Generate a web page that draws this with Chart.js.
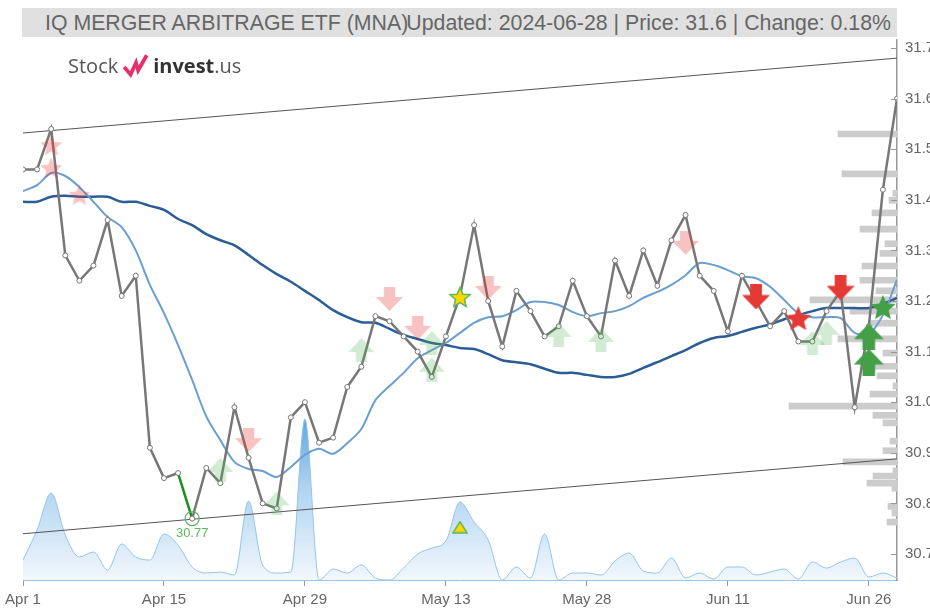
<!DOCTYPE html>
<html>
<head>
<meta charset="utf-8">
<script src="https://cdn.jsdelivr.net/npm/chart.js@4.4.1/dist/chart.umd.min.js"></script>
<style>
 body { margin: 0; background: #fff; }
 #wrap { position: relative; width: 930px; height: 608px; overflow: hidden; }
 #chart { position: absolute; left: 0; top: 0; }
 #titleBox { position: absolute; left: 22px; top: 8px; width: 875px; height: 29px; background: #e0e0e0;
   font-family: "Liberation Sans", Arial, sans-serif; font-size: 21.3px; color: #666; }
 #titleBox span { position: absolute; top: 3px; white-space: nowrap; }
 #titleBox .l { left: 23px; }
 #titleBox .r { right: 6px; }
 #logo { position: absolute; left: 68px; top: 52px; font-family: "Open Sans", "Liberation Sans", sans-serif;
   font-size: 20px; color: #555; white-space: nowrap; display: flex; align-items: center; }
 #logo svg { margin: 0 3px 0 4px; }
 #logo .i { font-weight: bold; color: #333; }
</style>
</head>
<body>
<div id="wrap">
 <canvas id="chart" width="930" height="608"></canvas>
 <div id="titleBox"><span class="l">IQ MERGER ARBITRAGE ETF (MNA)</span><span class="r">Updated: 2024-06-28 | Price: 31.6 | Change: 0.18%</span></div>
 <div id="logo"><span>Stock</span><svg width="28" height="24" viewBox="0 0 26 22"><path d="M2 12 L8 19 L13 8 L15 15 L23 1" fill="none" stroke="#e5306b" stroke-width="3.5"/></svg><span class="i">invest</span><span>.us</span></div>
</div>
<script>
// trading days, Apr 1 - Jun 28 2024
const dates = ['Apr 1','Apr 2','Apr 3','Apr 4','Apr 5','Apr 8','Apr 9','Apr 10','Apr 11','Apr 12','Apr 15','Apr 16','Apr 17','Apr 18','Apr 19','Apr 22','Apr 23','Apr 24','Apr 25','Apr 26','Apr 29','Apr 30',
 'May 1','May 2','May 3','May 6','May 7','May 8','May 9','May 10','May 13','May 14','May 15','May 16','May 17','May 20','May 21','May 22','May 23','May 24','May 28','May 29','May 30','May 31',
 'Jun 3','Jun 4','Jun 5','Jun 6','Jun 7','Jun 10','Jun 11','Jun 12','Jun 13','Jun 14','Jun 17','Jun 18','Jun 20','Jun 21','Jun 24','Jun 25','Jun 26','Jun 27','Jun 28'];
const xTickLabels = ['Apr 1','Apr 15','Apr 29','May 13','May 28','Jun 11','Jun 26'];
const yTicks = [30.7, 30.8, 30.9, 31.0, 31.1, 31.2, 31.3, 31.4, 31.5, 31.6, 31.7];

const price = [31.46,31.46,31.54,31.29,31.24,31.27,31.36,31.21,31.25,30.91,30.85,30.86,30.77,30.87,30.84,30.99,30.89,30.80,30.79,30.97,31.00,30.92,
 30.93,31.03,31.07,31.17,31.16,31.13,31.10,31.05,31.13,31.21,31.35,31.20,31.11,31.22,31.18,31.13,31.15,31.24,31.17,31.13,
 31.28,31.21,31.30,31.23,31.32,31.37,31.25,31.22,31.14,31.25,31.20,31.15,31.18,31.12,31.12,31.18,31.22,30.99,31.15,31.42,31.60];
const maShort = [31.417,31.429,31.453,31.447,31.425,31.396,31.366,31.346,31.30,31.232,31.176,31.113,31.044,30.972,30.925,30.882,30.868,30.864,30.852,30.872,30.896,30.908,
 30.898,30.919,30.947,31.004,31.032,31.058,31.087,31.103,31.117,31.137,31.157,31.168,31.170,31.182,31.198,31.198,31.192,31.178,31.17,31.176,
 31.18,31.19,31.206,31.218,31.232,31.251,31.275,31.271,31.261,31.249,31.245,31.228,31.202,31.176,31.168,31.168,31.166,31.137,31.135,31.172,31.242];
const maLong = [31.396,31.396,31.406,31.408,31.406,31.406,31.406,31.396,31.396,31.388,31.38,31.362,31.35,31.332,31.32,31.31,31.291,31.271,31.253,31.238,31.22,31.202,
 31.182,31.168,31.158,31.157,31.145,31.133,31.125,31.117,31.113,31.107,31.105,31.095,31.083,31.079,31.075,31.066,31.058,31.058,31.054,31.05,
 31.05,31.056,31.068,31.079,31.091,31.103,31.117,31.127,31.131,31.139,31.147,31.154,31.164,31.172,31.18,31.186,31.186,31.186,31.186,31.194,31.206];
// relative daily volume
const volume = [20,50,87,45,23,28,10,36,23,20,46,35,13,7,8,5,79,15,7,8,161,0,
 11,7,15,2,0,12,26,32,39,78,58,40,0,13,2,46,0,7,7,5,
 19,27,9,7,22,2,7,1,13,13,5,8,11,1,18,12,18,22,3,7,2];
// volume by price (relative)
const profilePrice = [31.536,31.457,31.419,31.405,31.38,31.348,31.319,31.30,31.275,31.247,31.226,31.208,31.186,31.162,31.131,31.103,31.077,31.058,31.038,31.022,
 30.998,30.98,30.965,30.929,30.91,30.888,30.87,30.86,30.846,30.836,30.80,30.787,30.769];
const profileVol = [59,55,4,8,25,37,12,17,35,37,21,87,47,27,59,14,37,20,4,27,108,24,14,7,14,54,4,24,30,5,9,5,10];

const upperTrend = [31.532, 31.68];
const lowerTrend = [30.740, 30.888];
const lowIdx = 12, lowPrice = 30.77;

const pinkStars = [[2, 31.508], [2, 31.463], [4, 31.41]];
const pinkDown = [[16, 30.925], [26, 31.204], [28, 31.147], [33, 31.226], [47, 31.315]];
const paleUp = [[14, 30.866], [18, 30.80], [24, 31.103], [29, 31.117], [29, 31.064], [38, 31.133], [41, 31.123], [56, 31.117], [57, 31.137]];
const redDown = [[52, 31.208], [58, 31.226]];
const redStars = [[55, 31.166]];
const greenUp = [[60, 31.129], [60, 31.079]];
const greenStars = [[61, 31.188]];
const yellowStars = [[31, 31.208]];
const yellowTriangles = [[31, 30.753]];

function pts(arr) { return arr.map(function (v, i) { return { x: i, y: v }; }); }
function marks(list) { return list.map(function (m) { return { x: m[0], y: m[1] }; }); }

function makeArrow(w, h, color, up) {
  var c = document.createElement('canvas');
  c.width = w; c.height = h;
  var g = c.getContext('2d');
  var sw = w * 0.42, sh = h * 0.42;
  g.fillStyle = color;
  g.beginPath();
  if (up) {
    g.moveTo(w / 2, 0); g.lineTo(w, h - sh); g.lineTo((w + sw) / 2, h - sh); g.lineTo((w + sw) / 2, h);
    g.lineTo((w - sw) / 2, h); g.lineTo((w - sw) / 2, h - sh); g.lineTo(0, h - sh);
  } else {
    g.moveTo(w / 2, h); g.lineTo(w, sh); g.lineTo((w + sw) / 2, sh); g.lineTo((w + sw) / 2, 0);
    g.lineTo((w - sw) / 2, 0); g.lineTo((w - sw) / 2, sh); g.lineTo(0, sh);
  }
  g.closePath();
  g.fill();
  return c;
}

function makeStar(size, fill, stroke) {
  var c = document.createElement('canvas');
  c.width = size; c.height = size;
  var g = c.getContext('2d');
  var cx = size / 2, cy = size / 2 + size * 0.04, ro = size / 2 - 1.5, ri = ro * 0.45;
  g.beginPath();
  for (var k = 0; k < 10; k++) {
    var r = k % 2 === 0 ? ro : ri;
    var a = -Math.PI / 2 + k * Math.PI / 5;
    g.lineTo(cx + r * Math.cos(a), cy + r * Math.sin(a));
  }
  g.closePath();
  g.fillStyle = fill;
  g.fill();
  if (stroke) { g.strokeStyle = stroke; g.lineWidth = 1.5; g.stroke(); }
  return c;
}

function makeTriangle(w, h, fill, stroke) {
  var c = document.createElement('canvas');
  c.width = w; c.height = h;
  var g = c.getContext('2d');
  g.beginPath();
  g.moveTo(w / 2, 1); g.lineTo(w - 1, h - 1); g.lineTo(1, h - 1);
  g.closePath();
  g.fillStyle = fill; g.fill();
  g.strokeStyle = stroke; g.lineWidth = 1.5; g.stroke();
  return c;
}

var pinkCol = 'rgba(229,57,53,0.3)';
var paleGreenCol = 'rgba(76,175,80,0.25)';
var imgPinkStar = makeStar(26, pinkCol);
var imgPinkDown = makeArrow(27, 24, pinkCol, false);
var imgPaleUp = makeArrow(26, 24, paleGreenCol, true);
var imgRedDown = makeArrow(28, 25, '#e53935', false);
var imgRedStar = makeStar(30, '#e53935');
var imgGreenUp = makeArrow(30, 27, '#43a047', true);
var imgGreenStar = makeStar(30, '#43a047');
var imgYellowStar = makeStar(24, '#ffd600', '#5cb85c');
var imgYellowTri = makeTriangle(16, 13, '#ffd600', '#5cb85c');

function markerSet(list, img) {
  return { type: 'line', data: marks(list), showLine: false, pointStyle: img, pointRadius: 12,
    xAxisID: 'x', yAxisID: 'y', order: 0 };
}

var extras = {
  id: 'extras',
  afterDatasetsDraw: function (chart) {
    var ctx = chart.ctx, x = chart.scales.x, y = chart.scales.y;
    ctx.save();
    ctx.strokeStyle = '#999';
    ctx.lineWidth = 1;
    yTicks.forEach(function (v) {
      var py = Math.round(y.getPixelForValue(v)) + 0.5;
      ctx.beginPath(); ctx.moveTo(y.left - 6, py); ctx.lineTo(y.left, py); ctx.stroke();
    });
    ctx.fillStyle = '#5cb85c';
    ctx.font = '13px "Liberation Sans", Arial, sans-serif';
    ctx.textAlign = 'center';
    ctx.textBaseline = 'top';
    ctx.fillText(lowPrice.toFixed(2), x.getPixelForValue(lowIdx), y.getPixelForValue(lowPrice) + 8);
    ctx.restore();
  }
};

var last = dates.length - 1;

new Chart(document.getElementById('chart'), {
  type: 'line',
  data: {
    datasets: [
      markerSet(pinkStars, imgPinkStar),
      markerSet(pinkDown, imgPinkDown),
      markerSet(paleUp, imgPaleUp),
      markerSet(redDown, imgRedDown),
      markerSet(redStars, imgRedStar),
      markerSet(greenUp, imgGreenUp),
      markerSet(greenStars, imgGreenStar),
      markerSet(yellowStars, imgYellowStar),
      markerSet(yellowTriangles, imgYellowTri),
      {
        type: 'line', data: [{ x: lowIdx, y: lowPrice }], showLine: false, pointRadius: 7,
        pointBorderColor: '#5cb85c', pointBackgroundColor: 'rgba(0,0,0,0)', pointBorderWidth: 1.2,
        xAxisID: 'x', yAxisID: 'y', order: 0
      },
      {
        type: 'line', label: 'Price', data: pts(price), borderColor: '#777', borderWidth: 2.5,
        pointRadius: 2.5, pointBackgroundColor: '#fff', pointBorderColor: '#777', pointBorderWidth: 1,
        tension: 0, xAxisID: 'x', yAxisID: 'y', order: 1,
        segment: {
          borderColor: function (c) { return c.p0DataIndex === lowIdx - 1 ? '#1e8c1e' : undefined; }
        }
      },
      {
        type: 'line', label: 'MA short', data: pts(maShort), borderColor: '#6a9fcf', borderWidth: 2,
        pointRadius: 0, tension: 0.3, xAxisID: 'x', yAxisID: 'y', order: 2
      },
      {
        type: 'line', label: 'MA long', data: pts(maLong), borderColor: '#2c5d96', borderWidth: 2.5,
        pointRadius: 0, tension: 0.3, xAxisID: 'x', yAxisID: 'y', order: 3
      },
      {
        type: 'line', data: [{ x: 0, y: upperTrend[0] }, { x: last, y: upperTrend[1] }], borderColor: '#555',
        borderWidth: 1, pointRadius: 0, xAxisID: 'x', yAxisID: 'y', order: 4
      },
      {
        type: 'line', data: [{ x: 0, y: lowerTrend[0] }, { x: last, y: lowerTrend[1] }], borderColor: '#555',
        borderWidth: 1, pointRadius: 0, xAxisID: 'x', yAxisID: 'y', order: 4
      },
      {
        type: 'bar', indexAxis: 'y', label: 'Volume by price',
        data: profilePrice.map(function (p, i) { return { x: profileVol[i], y: p }; }),
        backgroundColor: '#cccccc', barThickness: 6, xAxisID: 'xp', yAxisID: 'y', order: 5
      },
      {
        type: 'line', label: 'Volume', data: pts(volume), borderColor: '#93c5ec', borderWidth: 1,
        pointRadius: 0, cubicInterpolationMode: 'monotone', fill: 'origin',
        backgroundColor: function (c) {
          var ch = c.chart, area = ch.chartArea;
          if (!area) return 'rgba(66,150,220,0.2)';
          var g = ch.ctx.createLinearGradient(0, ch.scales.yv.getPixelForValue(170), 0, area.bottom);
          g.addColorStop(0, 'rgba(66,150,220,0.9)');
          g.addColorStop(0.45, 'rgba(66,150,220,0.42)');
          g.addColorStop(1, 'rgba(66,150,220,0.07)');
          return g;
        },
        xAxisID: 'x', yAxisID: 'yv', order: 6
      }
    ]
  },
  options: {
    responsive: false,
    animation: false,
    layout: { padding: { left: 23, top: 40, right: 0, bottom: 0 } },
    plugins: { legend: { display: false }, tooltip: { enabled: false } },
    scales: {
      x: {
        type: 'linear', position: 'bottom', min: 0, max: last,
        afterBuildTicks: function (s) { s.ticks = xTickLabels.map(function (l) { return { value: dates.indexOf(l) }; }); },
        afterFit: function (s) { s.height = 28; },
        ticks: {
          callback: function (v) { return dates[v]; }, color: '#666', padding: 5, maxRotation: 0, autoSkip: false,
          font: { size: 15, family: '"Liberation Sans", Arial, sans-serif' }
        },
        grid: { drawOnChartArea: false, drawTicks: true, tickLength: 6, color: '#999' },
        border: { color: '#9ec5e8', width: 1 }
      },
      y: {
        type: 'linear', position: 'right', min: 30.6486, max: 31.7158, offset: false,
        afterBuildTicks: function (s) { s.ticks = yTicks.map(function (v) { return { value: v }; }); },
        afterFit: function (s) { s.width = 33; },
        ticks: {
          callback: function (v) { return v.toFixed(1); }, color: '#666', padding: 0,
          font: { size: 15, family: '"Liberation Sans", Arial, sans-serif' }
        },
        grid: { display: false },
        border: { display: true, color: '#999', width: 1.5 }
      },
      yv: { type: 'linear', display: false, min: 0, max: 540 },
      xp: { type: 'linear', display: false, min: 0, max: 874, reverse: true }
    }
  },
  plugins: [extras]
});
</script>
</body>
</html>
